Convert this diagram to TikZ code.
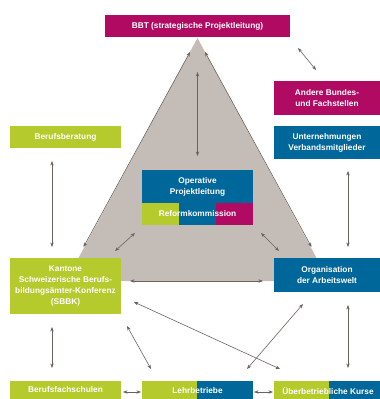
\documentclass[tikz,border=0pt]{standalone}
\usepackage{fontspec}
\setmainfont{Liberation Sans}
\usetikzlibrary{arrows.meta,calc}
\definecolor{mag}{HTML}{B10A62}
\definecolor{blu}{HTML}{00679A}
\definecolor{grn}{HTML}{B5CA2C}
\definecolor{tri}{HTML}{C4BCB7}
\definecolor{arr}{HTML}{6A625C}
\tikzset{
  box/.style={rectangle, inner sep=0pt, text=white, align=center,
    font=\fontsize{8.3}{10.8}\selectfont\bfseries},
  lbl/.style={inner sep=0pt, text=white, align=center,
    font=\fontsize{8.3}{10.8}\selectfont\bfseries},
  link/.style={draw=arr, line width=0.6pt,
    {Stealth[length=4.5pt,width=3.4pt]}-{Stealth[length=4.5pt,width=3.4pt]}},
}
\begin{document}
\begin{tikzpicture}[x=1pt,y=-1pt]
\useasboundingbox (0,0) rectangle (380,399);
% triangle
\fill[tri] (197.5,38) -- (66,281) -- (329,281) -- cycle;
% boxes
\node[box, fill=mag, minimum width=185pt, minimum height=22pt] (bbt) at (197.5,26) {BBT (strategische Projektleitung)};
\node[box, fill=mag, minimum width=106pt, minimum height=34pt] (andere) at (327,98) {Andere Bundes-\\und Fachstellen};
\node[box, fill=blu, minimum width=106pt, minimum height=33pt] (unter) at (327,142.5) {Unternehmungen\\Verbandsmitglieder};
\node[box, fill=grn, minimum width=111pt, minimum height=22pt] (beruf) at (65.5,137) {Berufsberatung};
\node[box, fill=blu, minimum width=111pt, minimum height=33pt] (op) at (197.5,186.5) {Operative\\Projektleitung};
\fill[grn] (142,203) rectangle (179,225);
\fill[blu] (179,203) rectangle (216,225);
\fill[mag] (216,203) rectangle (253,225);
\node[lbl] (reform) at (197.5,214) {Reformkommission};
\node[box, fill=grn, minimum width=111pt, minimum height=56pt] (kant) at (65.5,286) {Kantone\\Schweizerische Berufs-\\bildungsämter-Konferenz\\(SBBK)};
\node[box, fill=blu, minimum width=106pt, minimum height=34pt] (org) at (327,275) {Organisation\\der Arbeitswelt};
\node[box, fill=grn, minimum width=111pt, minimum height=18pt] (bfs) at (65.5,390) {Berufsfachschulen};
\fill[grn] (142,381) rectangle (197,399);
\fill[blu] (197,381) rectangle (253,399);
\node[lbl] (lehr) at (197.5,390.5) {Lehrbetriebe};
\fill[grn] (274,381) rectangle (329,399);
\fill[blu] (329,381) rectangle (380,399);
\node[lbl] (ueb) at (328,390.5) {Überbetriebliche Kurse};
% named end points
\coordinate (apexL) at (190,52);
\coordinate (apexR) at (205,52);
\coordinate (kantT) at (83.5,247);
\coordinate (orgT) at (311.5,247);
\coordinate (bbtV) at (197.5,72);
\coordinate (opV) at (197.5,156);
\coordinate (bbtA) at (298,48);
\coordinate (andA) at (316,70);
\coordinate (berB) at (52,161);
\coordinate (kanB) at (52,247);
\coordinate (untB) at (348,171);
\coordinate (orgB) at (348,247);
\coordinate (opK) at (135,233);
\coordinate (kanO) at (115,251);
\coordinate (opO) at (261,233);
\coordinate (orgO) at (279,251);
\coordinate (kanH) at (130,281);
\coordinate (orgH) at (263,281);
\coordinate (kanD) at (52,327);
\coordinate (bfsU) at (52,368);
\coordinate (kanL) at (127,326);
\coordinate (lehK) at (151,369);
\coordinate (kanU) at (134,302);
\coordinate (uebK) at (280,369);
\coordinate (orgL) at (303,304);
\coordinate (lehO) at (247,369);
\coordinate (orgD) at (348,305);
\coordinate (uebU) at (348,368);
\coordinate (bfsR) at (123,392);
\coordinate (lehL) at (141,392);
\coordinate (lehR) at (254,392);
\coordinate (uebL) at (273,392);
% connectors
\draw[link] (apexL) -- (kantT);
\draw[link] (apexR) -- (orgT);
\draw[link] (bbtV) -- (opV);
\draw[link] (bbtA) -- (andA);
\draw[link] (berB) -- (kanB);
\draw[link] (untB) -- (orgB);
\draw[link] (opK) -- (kanO);
\draw[link] (opO) -- (orgO);
\draw[link] (kanH) -- (orgH);
\draw[link] (kanD) -- (bfsU);
\draw[link] (kanL) -- (lehK);
\draw[link] (kanU) -- (uebK);
\draw[link] (orgL) -- (lehO);
\draw[link] (orgD) -- (uebU);
\draw[link] (bfsR) -- (lehL);
\draw[link] (lehR) -- (uebL);
\end{tikzpicture}
\end{document}
